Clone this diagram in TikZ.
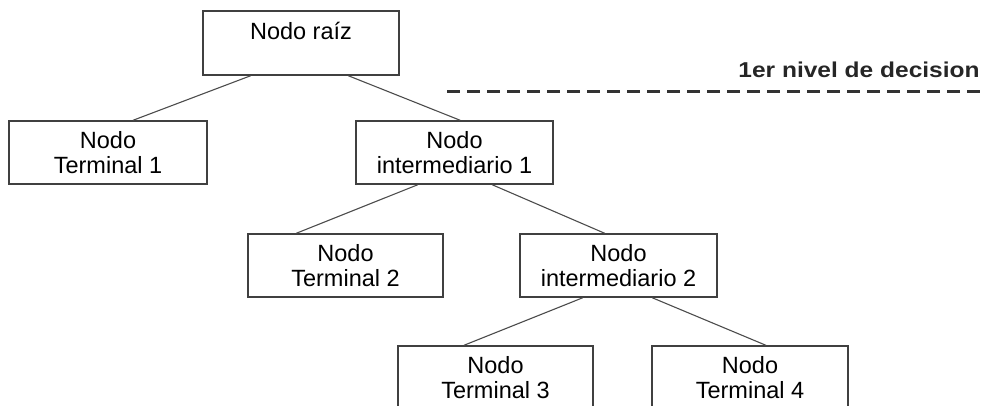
\documentclass[tikz,border=0pt]{standalone}
\usepackage{fontspec}
\setmainfont{Liberation Sans}
\usetikzlibrary{calc}

\tikzset{
  box/.style={draw=black!75, line width=0.75pt, fill=white, align=center,
    inner sep=0pt, font=\fontsize{11.75pt}{12.5pt}\selectfont},
  edge/.style={draw=black!70, line width=0.55pt},
  level/.style={draw=black!80, line width=1.5pt, dash pattern=on 6.5pt off 3.5pt},
}

\begin{document}
\begin{tikzpicture}[x=0.5pt, y=-0.5pt]
  \useasboundingbox (0,0) rectangle (982,406);
  \clip (0,0) rectangle (982,406);

  % tree nodes
  \node[box, minimum width=98pt, minimum height=32pt] (root) at (301,43)
    {Nodo raíz\\\phantom{Nodo}};
  \node[box, minimum width=99pt, minimum height=31.5pt] (t1) at (108,152.5)
    {Nodo\\Terminal 1};
  \node[box, minimum width=98.5pt, minimum height=31.5pt] (i1) at (454.5,152.5)
    {Nodo\\intermediario 1};
  \node[box, minimum width=97.5pt, minimum height=31.5pt] (t2) at (345.5,265.5)
    {Nodo\\Terminal 2};
  \node[box, minimum width=98.5pt, minimum height=31.5pt] (i2) at (618.5,265.5)
    {Nodo\\intermediario 2};
  \node[box, minimum width=97.5pt, minimum height=31.5pt] (t3) at (495.5,377.5)
    {Nodo\\Terminal 3};
  \node[box, minimum width=98pt, minimum height=31.5pt] (t4) at (750,377.5)
    {Nodo\\Terminal 4};

  % branches
  \draw[edge] ($(root.south west)!0.245!(root.south east)$) -- ($(t1.north west)!0.626!(t1.north east)$);
  \draw[edge] ($(root.south west)!0.74!(root.south east)$) -- ($(i1.north west)!0.528!(i1.north east)$);
  \draw[edge] ($(i1.south west)!0.315!(i1.south east)$) -- ($(t2.north west)!0.25!(t2.north east)$);
  \draw[edge] ($(i1.south west)!0.69!(i1.south east)$) -- ($(i2.north west)!0.43!(i2.north east)$);
  \draw[edge] ($(i2.south west)!0.32!(i2.south east)$) -- ($(t3.north west)!0.34!(t3.north east)$);
  \draw[edge] ($(i2.south west)!0.67!(i2.south east)$) -- ($(t4.north west)!0.58!(t4.north east)$);

  % first decision level marker
  \coordinate (lvlA) at (447,92);
  \coordinate (lvlB) at (990,92);
  \draw[level] (lvlA) -- (lvlB);
  \node[anchor=base east, inner sep=0pt, text=black!85,
    font=\fontsize{10.75pt}{12pt}\selectfont\bfseries] (lvltext) at (980,78)
    {\scalebox{1.14}[1]{1er nivel de decision}};
\end{tikzpicture}
\end{document}
